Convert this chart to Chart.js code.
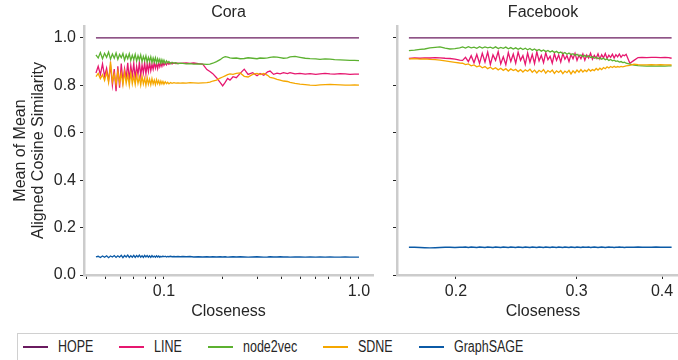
<!DOCTYPE html>
<html>
<head>
<meta charset="utf-8">
<script src="https://cdn.jsdelivr.net/npm/chart.js@4.4.0/dist/chart.umd.min.js"></script>
<style>
  html, body { margin: 0; padding: 0; background: #fff; overflow: hidden; }
  body { width: 678px; height: 360px; position: relative; font-family: "Liberation Sans", Arial, sans-serif; }
  #left { position: absolute; left: 0; top: 0; }
  #right { position: absolute; left: 380px; top: 0; }
  #legend { position: absolute; left: 17px; top: 333px; width: 700px; height: 40px;
            border: 1px solid #d0d0d0; box-sizing: border-box; }
  .item { position: absolute; top: 0; height: 26px; display: flex; align-items: center;
          font-size: 16px; color: #262626; white-space: nowrap; }
  .swatch { display: block; width: 25px; height: 2px; margin-right: 10px; }
  .name { display: inline-block; transform: scaleX(0.78); transform-origin: left center; }
</style>
</head>
<body>
<canvas id="left" width="380" height="330"></canvas>
<canvas id="right" width="310" height="330"></canvas>
<div id="legend"></div>
<script>
// series names and colours
var methods = ['HOPE', 'LINE', 'node2vec', 'SDNE', 'GraphSAGE'];
var seriesColors = ['#6a1b5f', '#e6176f', '#5cb130', '#f5a700', '#0b5aa6'];

// axis ticks
var yTicks = [0, 0.2, 0.4, 0.6, 0.8, 1.0];
var coraTicks = [0.04, 0.05, 0.06, 0.07, 0.08, 0.09, 0.1, 0.2, 0.3, 0.4, 0.5, 0.6, 0.7, 0.8, 0.9, 1.0];
var coraTickLabels = ['0.1', '1.0'];
var fbTicks = [0.2, 0.3, 0.4];

// ---- Cora ----
var coraHopeX = [0.0448, 1.0];
var coraHope = [1.0, 1.0];

var coraX = [
  0.0448, 0.0460, 0.0472, 0.0484, 0.0496, 0.0508, 0.0520, 0.0532, 0.0544, 0.0556,
  0.0568, 0.0580, 0.0592, 0.0604, 0.0616, 0.0628, 0.0640, 0.0652, 0.0664, 0.0676,
  0.0688, 0.0700, 0.0712, 0.0724, 0.0736, 0.0748, 0.0760, 0.0772, 0.0784, 0.0796,
  0.0808, 0.0820, 0.0832, 0.0844, 0.0856, 0.0868, 0.0880, 0.0892, 0.0904, 0.0916,
  0.0928, 0.0940, 0.0952, 0.0964, 0.0976, 0.0988, 0.1000, 0.1015, 0.1030, 0.1045,
  0.1060, 0.1080, 0.1100, 0.1125, 0.1150, 0.1180, 0.1210,
  0.125, 0.130, 0.136, 0.142, 0.150, 0.158, 0.166, 0.172, 0.178, 0.186,
  0.194, 0.200, 0.206, 0.212, 0.218, 0.226, 0.235, 0.246, 0.258, 0.270,
  0.285, 0.300, 0.311, 0.325, 0.340, 0.350, 0.365, 0.380, 0.394, 0.410,
  0.430, 0.443, 0.470, 0.498, 0.530, 0.561, 0.600, 0.631, 0.670, 0.710,
  0.750, 0.800, 0.850, 0.899, 0.950, 1.000
];

var coraLine = [
  0.852, 0.880, 0.845, 0.890, 0.838, 0.872, 0.820, 0.885, 0.800, 0.868,
  0.775, 0.880, 0.790, 0.892, 0.815, 0.870, 0.830, 0.895, 0.822, 0.884,
  0.838, 0.893, 0.830, 0.880, 0.845, 0.897, 0.840, 0.886, 0.852, 0.895,
  0.848, 0.890, 0.858, 0.898, 0.862, 0.888, 0.868, 0.897, 0.872, 0.892,
  0.870, 0.896, 0.878, 0.893, 0.880, 0.897, 0.884, 0.894, 0.886, 0.896,
  0.889, 0.895, 0.890, 0.894, 0.892, 0.893, 0.892,
  0.893, 0.894, 0.892, 0.894, 0.891, 0.889, 0.866, 0.858, 0.849, 0.832,
  0.812, 0.797, 0.812, 0.829, 0.822, 0.836, 0.832, 0.850, 0.868, 0.846,
  0.853, 0.840, 0.850, 0.842, 0.857, 0.860, 0.846, 0.851, 0.848, 0.853,
  0.849, 0.853, 0.848, 0.850, 0.847, 0.849, 0.846, 0.848, 0.850, 0.848,
  0.847, 0.849, 0.848, 0.846, 0.847, 0.847
];

var coraNode2vec = [
  0.928, 0.915, 0.938, 0.912, 0.935, 0.918, 0.940, 0.910, 0.932, 0.914,
  0.936, 0.909, 0.930, 0.916, 0.934, 0.906, 0.929, 0.912, 0.933, 0.905,
  0.927, 0.908, 0.931, 0.902, 0.925, 0.906, 0.928, 0.900, 0.922, 0.904,
  0.924, 0.898, 0.918, 0.901, 0.920, 0.896, 0.915, 0.899, 0.916, 0.894,
  0.912, 0.897, 0.910, 0.893, 0.908, 0.895, 0.906, 0.892, 0.903, 0.894,
  0.900, 0.891, 0.897, 0.893, 0.895, 0.891, 0.893,
  0.892, 0.890, 0.891, 0.889, 0.890, 0.889, 0.888, 0.889, 0.893, 0.900,
  0.908, 0.916, 0.921, 0.919, 0.916, 0.914, 0.915, 0.912, 0.913, 0.916,
  0.914, 0.912, 0.915, 0.914, 0.916, 0.918, 0.920, 0.919, 0.917, 0.914,
  0.916, 0.920, 0.922, 0.918, 0.914, 0.912, 0.911, 0.909, 0.911, 0.910,
  0.908, 0.907, 0.906, 0.905, 0.905, 0.904
];

var coraSdne = [
  0.837, 0.850, 0.828, 0.845, 0.820, 0.855, 0.812, 0.900, 0.815, 0.848,
  0.805, 0.858, 0.810, 0.850, 0.802, 0.856, 0.808, 0.845, 0.800, 0.852,
  0.806, 0.840, 0.803, 0.845, 0.808, 0.835, 0.801, 0.838, 0.806, 0.830,
  0.800, 0.832, 0.805, 0.826, 0.802, 0.828, 0.806, 0.822, 0.803, 0.824,
  0.807, 0.820, 0.804, 0.818, 0.806, 0.816, 0.805, 0.815, 0.807, 0.813,
  0.806, 0.812, 0.808, 0.811, 0.809, 0.810, 0.809,
  0.810, 0.809, 0.811, 0.810, 0.809, 0.810, 0.811, 0.813, 0.818, 0.822,
  0.830, 0.835, 0.840, 0.845, 0.848, 0.846, 0.850, 0.852, 0.838, 0.835,
  0.846, 0.850, 0.845, 0.850, 0.842, 0.833, 0.830, 0.825, 0.822, 0.818,
  0.816, 0.812, 0.808, 0.805, 0.803, 0.801, 0.800, 0.802, 0.803, 0.804,
  0.803, 0.802, 0.801, 0.801, 0.802, 0.801
];

var coraGraphSage = [
  0.076, 0.079, 0.074, 0.080, 0.075, 0.081, 0.073, 0.080, 0.076, 0.082,
  0.074, 0.081, 0.075, 0.083, 0.073, 0.082, 0.076, 0.084, 0.074, 0.081,
  0.075, 0.083, 0.074, 0.082, 0.076, 0.084, 0.075, 0.081, 0.074, 0.083,
  0.076, 0.082, 0.075, 0.081, 0.074, 0.082, 0.076, 0.080, 0.075, 0.081,
  0.076, 0.080, 0.075, 0.079, 0.076, 0.080, 0.077, 0.079, 0.076, 0.078,
  0.077, 0.079, 0.077, 0.078, 0.077, 0.078, 0.077,
  0.078, 0.077, 0.078, 0.076, 0.077, 0.076, 0.077, 0.076, 0.077, 0.076,
  0.077, 0.076, 0.077, 0.075, 0.076, 0.077, 0.076, 0.077, 0.076, 0.075,
  0.076, 0.077, 0.076, 0.075, 0.076, 0.077, 0.076, 0.076, 0.077, 0.076,
  0.076, 0.075, 0.076, 0.076, 0.075, 0.076, 0.075, 0.076, 0.075, 0.076,
  0.075, 0.075, 0.076, 0.075, 0.075, 0.075
];

// ---- Facebook ----
var fbHopeX = [0.1707, 0.4131];
var fbHope = [1.0, 1.0];

var fbX = [
  0.1707, 0.1740, 0.1772, 0.1800, 0.1832, 0.1865, 0.1895, 0.1928, 0.1960, 0.1993, 0.2025,
  0.2045, 0.2065, 0.2085, 0.2105, 0.2125, 0.2145, 0.2165, 0.2185, 0.2205, 0.2225,
  0.2245, 0.2265, 0.2285, 0.2305, 0.2325, 0.2345, 0.2365, 0.2385, 0.2405, 0.2425,
  0.2445, 0.2465, 0.2485, 0.2505, 0.2525, 0.2545, 0.2565, 0.2585, 0.2605, 0.2625,
  0.2645, 0.2665, 0.2685, 0.2705, 0.2725, 0.2745, 0.2765, 0.2785, 0.2805, 0.2825,
  0.2845, 0.2865, 0.2885, 0.2905, 0.2925, 0.2945, 0.2965, 0.2985, 0.3005, 0.3025,
  0.3045, 0.3065, 0.3085, 0.3105, 0.3125, 0.3145, 0.3165, 0.3185, 0.3205, 0.3225,
  0.3245, 0.3265, 0.3285, 0.3305, 0.3325, 0.3345, 0.3365, 0.3385, 0.3405, 0.3425,
  0.3445, 0.3465, 0.3485, 0.3505, 0.3525, 0.3545,
  0.3590, 0.3640, 0.3690, 0.3740, 0.3800, 0.3860, 0.3920, 0.3980, 0.4040, 0.4090, 0.4131
];

var fbLine = [
  0.913, 0.915, 0.914, 0.916, 0.915, 0.917, 0.916, 0.914, 0.913, 0.910, 0.906,
  0.905, 0.918, 0.900, 0.925, 0.895, 0.930, 0.892, 0.935, 0.898, 0.940,
  0.888, 0.928, 0.905, 0.942, 0.890, 0.920, 0.887, 0.938, 0.900, 0.932,
  0.893, 0.940, 0.905, 0.925, 0.888, 0.936, 0.897, 0.930, 0.892, 0.941,
  0.903, 0.926, 0.895, 0.937, 0.908, 0.922, 0.893, 0.933, 0.905, 0.928,
  0.898, 0.934, 0.910, 0.925, 0.900, 0.930, 0.912, 0.935, 0.905, 0.927,
  0.912, 0.932, 0.906, 0.928, 0.915, 0.935, 0.910, 0.926, 0.914, 0.933,
  0.911, 0.929, 0.916, 0.934, 0.913, 0.927, 0.918, 0.931, 0.915, 0.929,
  0.920, 0.932, 0.918, 0.928, 0.925, 0.931,
  0.893, 0.905, 0.917, 0.918, 0.917, 0.918, 0.918, 0.917, 0.918, 0.917, 0.914
];

var fbNode2vec = [
  0.946, 0.948, 0.951, 0.953, 0.958, 0.960, 0.962, 0.957, 0.953, 0.955, 0.958,
  0.962, 0.957, 0.963, 0.958, 0.961, 0.956, 0.963, 0.957, 0.962, 0.958,
  0.961, 0.956, 0.962, 0.955, 0.960, 0.956, 0.961, 0.954, 0.959, 0.953,
  0.958, 0.952, 0.957, 0.951, 0.956, 0.950, 0.955, 0.948, 0.953, 0.946,
  0.951, 0.944, 0.949, 0.942, 0.947, 0.940, 0.945, 0.938, 0.943, 0.936,
  0.940, 0.933, 0.938, 0.931, 0.936, 0.929, 0.933, 0.926, 0.931, 0.924,
  0.928, 0.921, 0.926, 0.919, 0.924, 0.917, 0.921, 0.914, 0.919, 0.912,
  0.916, 0.910, 0.914, 0.908, 0.911, 0.905, 0.909, 0.903, 0.906, 0.901,
  0.903, 0.898, 0.900, 0.896, 0.897, 0.893,
  0.889, 0.885, 0.883, 0.882, 0.881, 0.882, 0.881, 0.882, 0.881, 0.882, 0.882
];

var fbSdne = [
  0.911, 0.912, 0.910, 0.911, 0.909, 0.908, 0.906, 0.903, 0.900, 0.897, 0.894,
  0.893, 0.887, 0.890, 0.882, 0.886, 0.878, 0.882, 0.874, 0.879, 0.870,
  0.876, 0.868, 0.874, 0.865, 0.872, 0.863, 0.870, 0.860, 0.869, 0.862,
  0.867, 0.858, 0.866, 0.856, 0.865, 0.859, 0.868, 0.855, 0.864, 0.852,
  0.863, 0.856, 0.866, 0.851, 0.862, 0.855, 0.864, 0.850, 0.861, 0.854,
  0.862, 0.849, 0.860, 0.853, 0.863, 0.848, 0.861, 0.852, 0.864, 0.855,
  0.866, 0.856, 0.864, 0.858, 0.868, 0.860, 0.866, 0.862, 0.871, 0.864,
  0.872, 0.866, 0.875, 0.870, 0.878, 0.873, 0.879, 0.875, 0.880, 0.876,
  0.879, 0.877, 0.880, 0.878, 0.880, 0.882,
  0.884, 0.889, 0.887, 0.886, 0.886, 0.887, 0.886, 0.887, 0.886, 0.886, 0.886
];

var fbGraphSage = [
  0.117, 0.117, 0.116, 0.115, 0.114, 0.115, 0.116, 0.117, 0.117, 0.116, 0.117,
  0.117, 0.118, 0.116, 0.118, 0.117, 0.116, 0.118, 0.117, 0.116, 0.118,
  0.117, 0.116, 0.118, 0.117, 0.116, 0.118, 0.117, 0.116, 0.118, 0.117,
  0.116, 0.118, 0.117, 0.116, 0.118, 0.117, 0.116, 0.118, 0.117, 0.116,
  0.118, 0.117, 0.116, 0.118, 0.117, 0.116, 0.118, 0.117, 0.116, 0.118,
  0.117, 0.116, 0.118, 0.117, 0.116, 0.118, 0.117, 0.116, 0.118, 0.117,
  0.116, 0.118, 0.117, 0.117, 0.118, 0.116, 0.117, 0.118, 0.117, 0.116,
  0.117, 0.118, 0.117, 0.116, 0.117, 0.118, 0.117, 0.117, 0.116, 0.117,
  0.117, 0.118, 0.117, 0.117, 0.116, 0.117,
  0.117, 0.117, 0.118, 0.117, 0.117, 0.117, 0.118, 0.117, 0.117, 0.117, 0.117
];

var textColor = '#262626';
var spineColor = '#cccccc';
var font = { family: '"Liberation Sans", Arial, sans-serif', size: 16 };

function pts(xs, ys) {
  return xs.map(function (x, i) { return { x: x, y: ys[i] }; });
}

function makeDatasets(list) {
  return list.map(function (d, i) {
    return {
      label: methods[i],
      data: pts(d[0], d[1]),
      borderColor: seriesColors[i],
      borderWidth: 1.3,
      pointRadius: 0,
      tension: 0,
      fill: false,
      order: 5 - i
    };
  });
}

function makeChart(id, title, datasets, opts) {
  return new Chart(document.getElementById(id), {
    type: 'line',
    data: { datasets: datasets },
    options: {
      responsive: false,
      animation: false,
      events: [],
      layout: { padding: { left: 0, right: opts.padRight, top: 0, bottom: 0 } },
      plugins: {
        legend: { display: false },
        tooltip: { enabled: false },
        title: {
          display: true, text: title, fullSize: false, color: textColor,
          font: { family: font.family, size: 16, weight: 'normal', lineHeight: 1.1 },
          padding: { top: 4, bottom: 4.4 }
        }
      },
      scales: {
        x: {
          type: 'logarithmic',
          min: opts.xMin, max: opts.xMax,
          afterBuildTicks: function (axis) { axis.ticks = opts.xTicks.map(function (v) { return { value: v }; }); },
          afterFit: function (axis) { axis.height = 55; },
          ticks: {
            autoSkip: false, maxRotation: 0, color: textColor, font: font, padding: 3,
            callback: opts.xLabel
          },
          grid: { drawOnChartArea: false, drawTicks: true, tickLength: 4, color: textColor, lineWidth: 1 },
          border: { color: spineColor, width: 2.5 },
          title: { display: true, text: 'Closeness', color: textColor, font: font, padding: { top: 0, bottom: 9 } }
        },
        y: {
          min: 0, max: 1.05,
          afterBuildTicks: function (axis) { axis.ticks = yTicks.map(function (v) { return { value: v }; }); },
          afterFit: function (axis) { axis.width = opts.yWidth; },
          ticks: {
            display: opts.yLabels, color: textColor, font: font, padding: 4,
            callback: function (v) { return v.toFixed(1); }
          },
          grid: { drawOnChartArea: false, drawTicks: true, tickLength: 4, color: textColor, lineWidth: 1 },
          border: { color: spineColor, width: 2.5 },
          title: {
            display: opts.yLabels,
            text: ['Mean of Mean', 'Aligned Cosine Similarity'],
            color: textColor,
            font: { family: font.family, size: 16, lineHeight: 1.1 },
            padding: { top: 12, bottom: 0 }
          }
        }
      }
    }
  });
}

makeChart('left', 'Cora', makeDatasets([
  [coraHopeX, coraHope],
  [coraX, coraLine],
  [coraX, coraNode2vec],
  [coraX, coraSdne],
  [coraX, coraGraphSage]
]), {
  xMin: 0.0389, xMax: 1.18, xTicks: coraTicks, padRight: 7, yWidth: 84, yLabels: true,
  xLabel: function (v) {
    if (Math.abs(v - 0.1) < 1e-9) return coraTickLabels[0];
    if (Math.abs(v - 1.0) < 1e-9) return coraTickLabels[1];
    return '';
  }
});

makeChart('right', 'Facebook', makeDatasets([
  [fbHopeX, fbHope],
  [fbX, fbLine],
  [fbX, fbNode2vec],
  [fbX, fbSdne],
  [fbX, fbGraphSage]
]), {
  xMin: 0.164, xMax: 0.438, xTicks: fbTicks, padRight: 1, yWidth: 17, yLabels: false,
  xLabel: function (v) { return v.toFixed(1); }
});

// legend box along the bottom
var legendLeft = [5, 101, 190, 305, 401];
var legendBox = document.getElementById('legend');
methods.forEach(function (m, i) {
  var item = document.createElement('div');
  item.className = 'item';
  item.style.left = legendLeft[i] + 'px';
  var sw = document.createElement('span');
  sw.className = 'swatch';
  sw.style.backgroundColor = seriesColors[i];
  var name = document.createElement('span');
  name.className = 'name';
  name.textContent = m;
  item.appendChild(sw);
  item.appendChild(name);
  legendBox.appendChild(item);
});
</script>
</body>
</html>
